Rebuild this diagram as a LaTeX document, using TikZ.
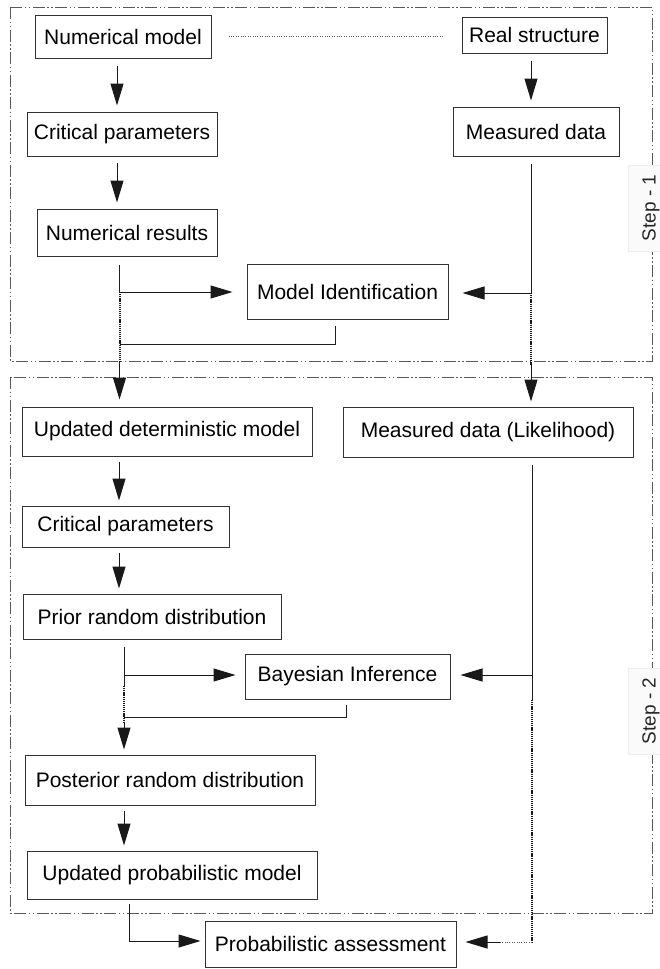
\documentclass[tikz,border=0pt]{standalone}
\usepackage{fontspec}
\setmainfont{Liberation Sans}
\usetikzlibrary{arrows.meta}
\begin{document}
\begin{tikzpicture}[x=1pt,y=-1pt,
  bx/.style={draw=black!80, line width=1pt, inner sep=0pt, font=\fontsize{21}{25}\selectfont, text=black},
  arr/.style={-{Triangle[length=22pt,width=13pt]}, line width=1pt, draw=black!90},
  ln/.style={line width=1pt, draw=black!88},
  dt/.style={line width=2pt, draw=black!90, dash pattern=on 1.2pt off 0.9pt},
  dotthin/.style={line width=0.9pt, draw=black!65, dash pattern=on 1pt off 1.4pt},
  fr/.style={draw=black!65, line width=1pt, dash pattern=on 12pt off 2.5pt on 1.5pt off 2.5pt on 1.5pt off 2.5pt},
  steplbl/.style={rotate=90, fill=black!2, draw=black!7, inner xsep=10pt, inner ysep=5.5pt, text height=22pt, text depth=4pt, font=\fontsize{19}{21}\selectfont, text=black!85}
]
\useasboundingbox[fill=white] (0,0) rectangle (659,969);

% frames
\draw[fr] (10,7) rectangle (652,361);
\draw[fr] (10,377) rectangle (652,913);
\node[steplbl] (s1) at (646.5,208) {Step - 1};
\node[steplbl] (s2) at (646.5,711) {Step - 2};

% boxes
\node[bx, minimum width=176pt, minimum height=43pt] (nm) at (123,36.5) {Numerical model};
\node[bx, minimum width=145pt, minimum height=36pt] (rs) at (534.5,35) {Real structure};
\node[bx, minimum width=190pt, minimum height=44pt] (cp1) at (122,134) {Critical parameters};
\node[bx, minimum width=166pt, minimum height=49pt] (md) at (536,131.5) {Measured data};
\node[bx, minimum width=180pt, minimum height=47pt] (nr) at (127,232.5) {Numerical results};
\node[bx, minimum width=201pt, minimum height=55pt] (mi) at (347.5,291.5) {Model Identification};
\node[bx, minimum width=290pt, minimum height=49pt] (udm) at (167,431.5) {Updated deterministic model};
\node[bx, minimum width=290pt, minimum height=50pt] (mdl) at (488,432) {Measured data (Likelihood)};
\node[bx, minimum width=207pt, minimum height=41pt] (cp2) at (125.5,526.5) {Critical parameters};
\node[bx, minimum width=258pt, minimum height=45pt] (prd) at (152,616.5) {Prior random distribution};
\node[bx, minimum width=205pt, minimum height=45pt] (bi) at (347.5,676.5) {Bayesian Inference};
\node[bx, minimum width=290pt, minimum height=50pt] (post) at (170,780) {Posterior random distribution};
\node[bx, minimum width=290pt, minimum height=48pt] (upm) at (172,875) {Updated probabilistic model};
\node[bx, minimum width=251pt, minimum height=46pt] (pa) at (330.5,944) {Probabilistic assessment};

% x positions
\coordinate (xa) at (117,0);
\coordinate (xb) at (119,0);
\coordinate (xc) at (124,0);
\coordinate (xd) at (531,0);

% step 1 connectors
\draw[dotthin, shorten <=17pt, shorten >=17pt] (nm.east) -- (nm.east -| rs.west);
\draw[arr, shorten <=7pt, shorten >=6pt] (nm.south -| xa) -- (cp1.north -| xa);
\draw[arr, shorten <=6pt, shorten >=6pt] (cp1.south -| xa) -- (nr.north -| xa);
\draw[arr, shorten <=7pt, shorten >=6pt] (rs.south -| xd) -- (md.north -| xd);

\coordinate (j1) at (531,293);
\coordinate (j1b) at (531,365);
\draw[ln, shorten <=7pt] (md.south -| j1) -- (j1);
\draw[arr, shorten >=14pt] (j1) -- (j1 -| mi.east);
\draw[dt] (j1) -- (j1b);
\draw[arr, shorten >=5pt] (j1b) -- (mdl.north -| j1b);

\coordinate (j2) at (119.5,292);
\coordinate (j3) at (119.5,344);
\coordinate (j3b) at (119.5,362);
\coordinate (r1) at (335,344);
\draw[ln, shorten <=8pt] (nr.south -| j2) -- (j2);
\draw[arr, shorten >=14pt] (j2) -- (j2 -| mi.west);
\draw[dt] (j2) -- (j3b);
\draw[arr, shorten >=7pt] (j3b) -- (udm.north -| j3b);
\draw[ln, shorten <=6pt] (mi.south -| r1) -- (r1) -- (j3);

% step 2 connectors
\draw[arr, shorten <=5pt, shorten >=5pt] (udm.south -| xb) -- (cp2.north -| xb);
\draw[arr, shorten <=5pt, shorten >=5pt] (cp2.south -| xb) -- (prd.north -| xb);

\coordinate (k1) at (124,675);
\coordinate (k1a) at (124,686);
\coordinate (k1b) at (124,723);
\coordinate (k2) at (124,717);
\coordinate (r2) at (346,717);
\draw[ln, shorten <=7pt] (prd.south -| k1) -- (k1a);
\draw[arr, shorten >=9pt] (k1) -- (k1 -| bi.west);
\draw[dt] (k1a) -- (k1b);
\draw[arr, shorten >=5pt] (k1b) -- (post.north -| k1b);
\draw[ln, shorten <=5pt] (bi.south -| r2) -- (r2) -- (k2);

\coordinate (j4) at (532,675);
\coordinate (j4b) at (532,700);
\coordinate (j4c) at (532,942);
\coordinate (j5) at (500,942);
\draw[ln, shorten <=7pt] (mdl.south -| j4) -- (j4b);
\draw[arr, shorten >=10pt] (j4) -- (j4 -| bi.east);
\draw[dt] (j4b) -- (j4c);
\draw[dotthin] (j4c) -- (j5);
\draw[arr, shorten >=9pt] (j5) -- (j5 -| pa.east);

\draw[arr, shorten <=5pt, shorten >=5pt] (post.south -| xc) -- (upm.north -| xc);

\coordinate (m1) at (129,941);
\draw[arr, shorten <=4pt, shorten >=4pt] (upm.south -| m1) -- (m1) -- (m1 -| pa.west);
\end{tikzpicture}
\end{document}
